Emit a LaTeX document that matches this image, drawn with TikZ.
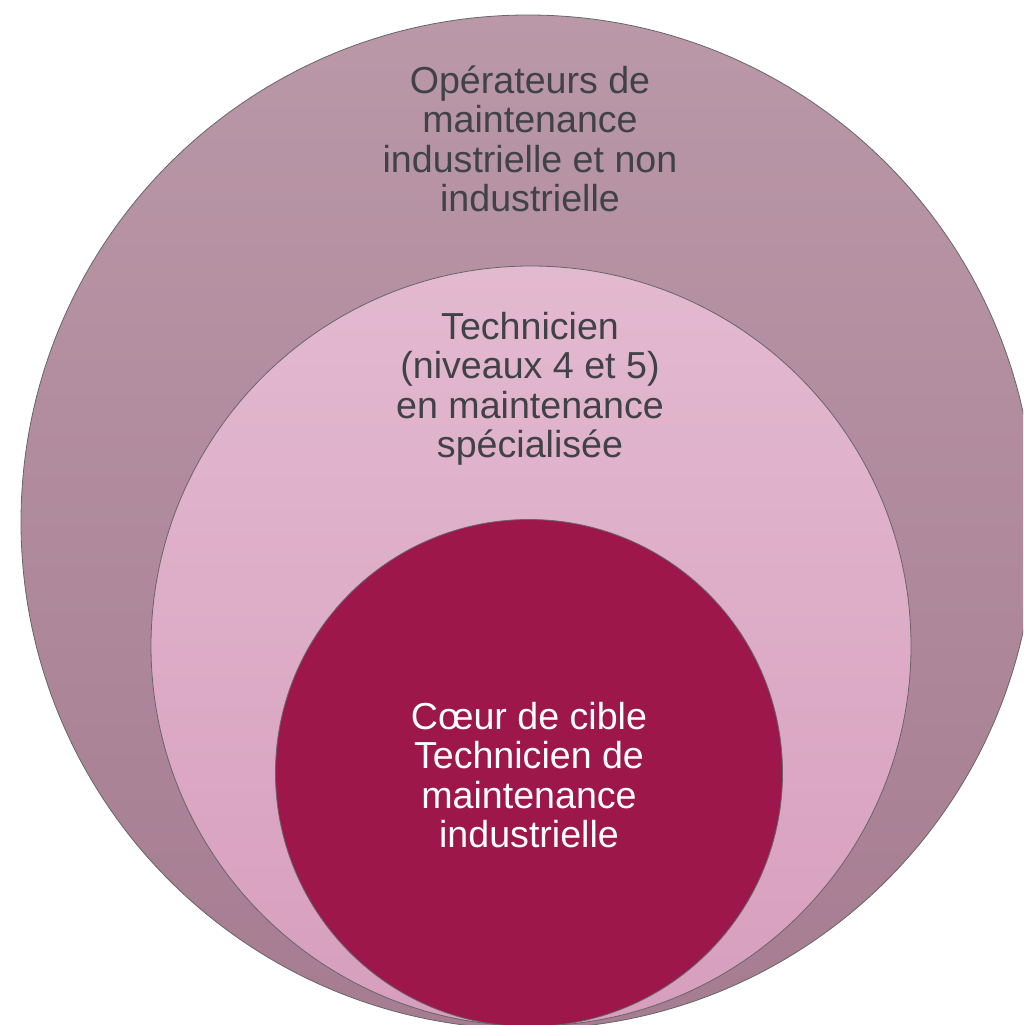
\documentclass[tikz,border=0pt]{standalone}
\usepackage{fontspec}
\setmainfont{Liberation Sans}
\usetikzlibrary{positioning}
\definecolor{outerTop}{RGB}{186,152,168}
\definecolor{outerBot}{RGB}{166,124,145}
\definecolor{midTop}{RGB}{227,185,208}
\definecolor{midBot}{RGB}{215,158,190}
\definecolor{coreFill}{RGB}{157,23,75}
\definecolor{txtGray}{RGB}{64,66,72}
\tikzset{
  ring/.style={circle, draw=black!60, line width=0.8pt, inner sep=0pt},
  ringtxt/.style={align=center, font=\fontsize{37.6}{39.5}\selectfont, text=txtGray},
}

\begin{document}
\begin{tikzpicture}[x=1pt,y=-1pt]
  \useasboundingbox (0,0) rectangle (1023,1025);
  \clip (0,0) rectangle (1023,1025);
  % nested circles
  \node[ring, minimum size=1014pt, top color=outerTop, bottom color=outerBot] (outer) at (528,522) {};
  \node[ring, minimum size=760pt, top color=midTop, bottom color=midBot] (middle) at (531,646) {};
  \node[ring, minimum size=507pt, fill=coreFill] (core) at (529,773) {};
  % texts
  \node[ringtxt] (outerTxt) at (530,139) {Opérateurs de\\maintenance\\industrielle et non\\industrielle};
  \node[ringtxt] (middleTxt) at (530,389) {Technicien\\(niveaux 4 et 5)\\en maintenance\\spécialisée};
  \node[ringtxt, text=white] (coreTxt) at (529,775) {Cœur de cible\\Technicien de\\maintenance\\industrielle};
\end{tikzpicture}
\end{document}
